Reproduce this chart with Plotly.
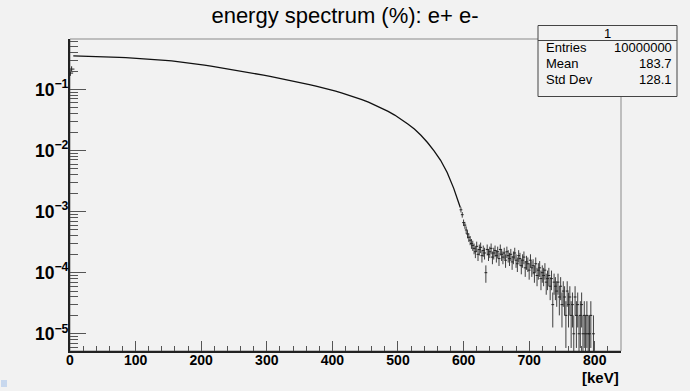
import plotly.graph_objects as go

# ---------------- data (percent of entries per 1 keV bin) ----------------
ENTRIES = 10000000
PERCENT_PER_ENTRY = 100.0 / ENTRIES

first_energy = [0.5, 2.5]
first_value = [0.185, 0.215]

main_energy = [5, 15, 25, 35, 45, 55, 65, 75, 85, 95,
               105, 115, 125, 135, 145, 155, 165, 175, 185, 195,
               205, 215, 225, 235, 245, 255, 265, 275, 285, 295,
               305, 315, 325, 335, 345, 355, 365, 375, 385, 395,
               405, 415, 425, 435, 445, 455, 465, 475, 485, 495,
               505, 515, 525, 535, 545, 555, 565, 575, 585, 590, 595]
main_value = [0.3532, 0.3516, 0.3499, 0.3475, 0.3443, 0.3412, 0.3381, 0.3350, 0.3311, 0.3266,
              0.3221, 0.3170, 0.3112, 0.3055, 0.2992, 0.2924, 0.2844, 0.2761, 0.2673, 0.2582,
              0.2495, 0.2404, 0.2312, 0.2223, 0.2133, 0.2046, 0.1959, 0.1875, 0.1795, 0.1714,
              0.1637, 0.1560, 0.1483, 0.1409, 0.1337, 0.1268, 0.1200, 0.1132, 0.1067, 0.1000,
              0.0933, 0.0867, 0.0804, 0.0741, 0.0679, 0.0617, 0.0555, 0.0494, 0.0437, 0.0380,
              0.0324, 0.0272, 0.0224, 0.0178, 0.0135, 0.00989, 0.00692, 0.00437, 0.00240,
              0.00166, 0.00117]

tail_energy = list(range(596, 810, 2))
tail_counts = [107, 89, 66, 60, 50, 43, 38, 34, 30, 28,
               25, 22, 27, 20, 24, 26, 19, 23, 21, 10,
               24, 20, 22, 25, 18, 21, 23, 19, 22, 17,
               24, 20, 18, 21, 16, 22, 19, 17, 20, 15,
               18, 21, 16, 14, 19, 17, 13, 16, 18, 12,
               15, 14, 11, 16, 12, 13, 10, 14, 9, 11,
               12, 8, 10, 9, 11, 7, 8, 9, 6, 8,
               3, 7, 6, 5, 7, 4, 6, 3, 5, 4,
               2, 5, 3, 4, 2, 3, 1, 4, 2, 3,
               1, 2, 3, 1, 2, 1, 2, 1, 1, 2,
               0, 1, 0, 0, 0, 0, 0]

x_ticks = [0, 100, 200, 300, 400, 500, 600, 700, 800]

stats_rows = [("Entries", "10000000"), ("Mean", "183.7"), ("Std Dev", "128.1")]

# ---------------- derived ----------------
tx, ty, tup, tdn = [], [], [], []
for e, c in zip(tail_energy, tail_counts):
    if c <= 0:
        continue
    v = c * PERCENT_PER_ENTRY
    err = (c ** 0.5) * PERCENT_PER_ENTRY
    tx.append(e)
    ty.append(v)
    tup.append(err)
    tdn.append(min(err, v * 0.9999))

BG = "#f2f2f2"
FONT = "Liberation Sans"

# plot area in pixels
L, R, T, B = 70, 69, 39, 40
W, H = 690, 391
pw, ph = W - L - R, H - T - B


def px(xp):
    return (xp - L) / pw


def py(yp):
    return (H - B - yp) / ph


fig = go.Figure()

fig.add_trace(go.Scatter(
    x=main_energy, y=main_value, mode="lines",
    line=dict(color="#111111", width=1.3), hoverinfo="skip", showlegend=False))

fig.add_trace(go.Scatter(
    x=first_energy, y=first_value, mode="markers",
    marker=dict(symbol="cross-thin", size=4, line=dict(color="#222", width=1)),
    showlegend=False))

fig.add_trace(go.Scatter(
    x=tx, y=ty, mode="markers",
    marker=dict(symbol="line-ew", size=2, line=dict(color="#222", width=1)),
    error_y=dict(type="data", symmetric=False, array=tup, arrayminus=tdn,
                 color="rgba(30,30,30,0.85)", thickness=1, width=0),
    showlegend=False))

shapes = []
# frame (top/right thin gray)
shapes.append(dict(type="rect", xref="paper", yref="paper", x0=0, x1=1, y0=0, y1=1,
                   line=dict(color="#8a8a8a", width=1), layer="below"))
# stats box
bx0, bx1, by0, by1 = 538, 677, 25.5, 96.5
shapes.append(dict(type="rect", xref="paper", yref="paper",
                   x0=px(bx0), x1=px(bx1), y0=py(by1), y1=py(by0),
                   line=dict(color="#444", width=1), fillcolor=BG, layer="above"))
shapes.append(dict(type="line", xref="paper", yref="paper",
                   x0=px(bx0), x1=px(bx1), y0=py(40.5), y1=py(40.5),
                   line=dict(color="#444", width=1), layer="above"))
# small icon bottom-left
shapes.append(dict(type="rect", xref="paper", yref="paper",
                   x0=px(1), x1=px(7), y0=py(387), y1=py(380),
                   line=dict(width=0), fillcolor="#c8d8ee", layer="above"))

annotations = []
annotations.append(dict(xref="paper", yref="paper", x=px(607.5), y=py(33.5),
                        text="1", showarrow=False, xanchor="center", yanchor="middle",
                        font=dict(family=FONT, size=13, color="black")))
for i, (lab, val) in enumerate(stats_rows):
    yy = py(47.5 + 16 * i)
    annotations.append(dict(xref="paper", yref="paper", x=px(544), y=yy, text=lab,
                            showarrow=False, xanchor="left", yanchor="middle",
                            font=dict(family=FONT, size=13, color="black")))
    annotations.append(dict(xref="paper", yref="paper", x=px(674), y=yy, text=val,
                            showarrow=False, xanchor="right", yanchor="middle",
                            font=dict(family=FONT, size=13, color="black")))
annotations.append(dict(xref="paper", yref="paper", x=px(621), y=py(377),
                        text="<b>[keV]</b>", showarrow=False, xanchor="right", yanchor="middle",
                        font=dict(family=FONT, size=15, color="black")))

fig.update_layout(
    width=W, height=H,
    margin=dict(l=L, r=R, t=T, b=B),
    paper_bgcolor=BG, plot_bgcolor=BG,
    title=dict(text="energy spectrum (%): e+ e-", x=0.5, xanchor="center",
               y=1 - 15 / H, yanchor="middle", yref="container",
               font=dict(family=FONT, size=22, color="black")),
    shapes=shapes, annotations=annotations,
    showlegend=False,
)

fig.update_xaxes(
    range=[0, 840], showgrid=False, zeroline=False, automargin=False,
    showline=True, linecolor="#222", linewidth=1.5,
    tickvals=x_ticks, ticktext=[str(v) for v in x_ticks],
    ticks="inside", ticklen=10, tickwidth=1, tickcolor="#555",
    ticklabelstandoff=-5,
    tickfont=dict(family=FONT, size=14, color="black", weight="bold"),
    minor=dict(dtick=20, ticks="inside", ticklen=5, tickwidth=1, tickcolor="#555", showgrid=False),
)
fig.update_yaxes(
    type="log", range=[-5.282, -0.175], showgrid=False, zeroline=False, automargin=False,
    showline=True, linecolor="#222", linewidth=1.5,
    dtick=1, exponentformat="power",
    ticks="inside", ticklen=16, tickwidth=1, tickcolor="#555",
    ticklabelstandoff=-3,
    tickfont=dict(family=FONT, size=14, color="black", weight="bold"),
    minor=dict(dtick="D1", ticks="inside", ticklen=8, tickwidth=1, tickcolor="#555", showgrid=False),
)

fig.write_html("out.html", config={"displayModeBar": False})

# remove the default 8px page margin so the figure sits at the window's corner
with open("out.html", "r", encoding="utf-8") as f:
    html = f.read()
html = html.replace("<head>", "<head><style>html,body{margin:0;padding:0;background:%s;}</style>" % BG, 1)
with open("out.html", "w", encoding="utf-8") as f:
    f.write(html)
